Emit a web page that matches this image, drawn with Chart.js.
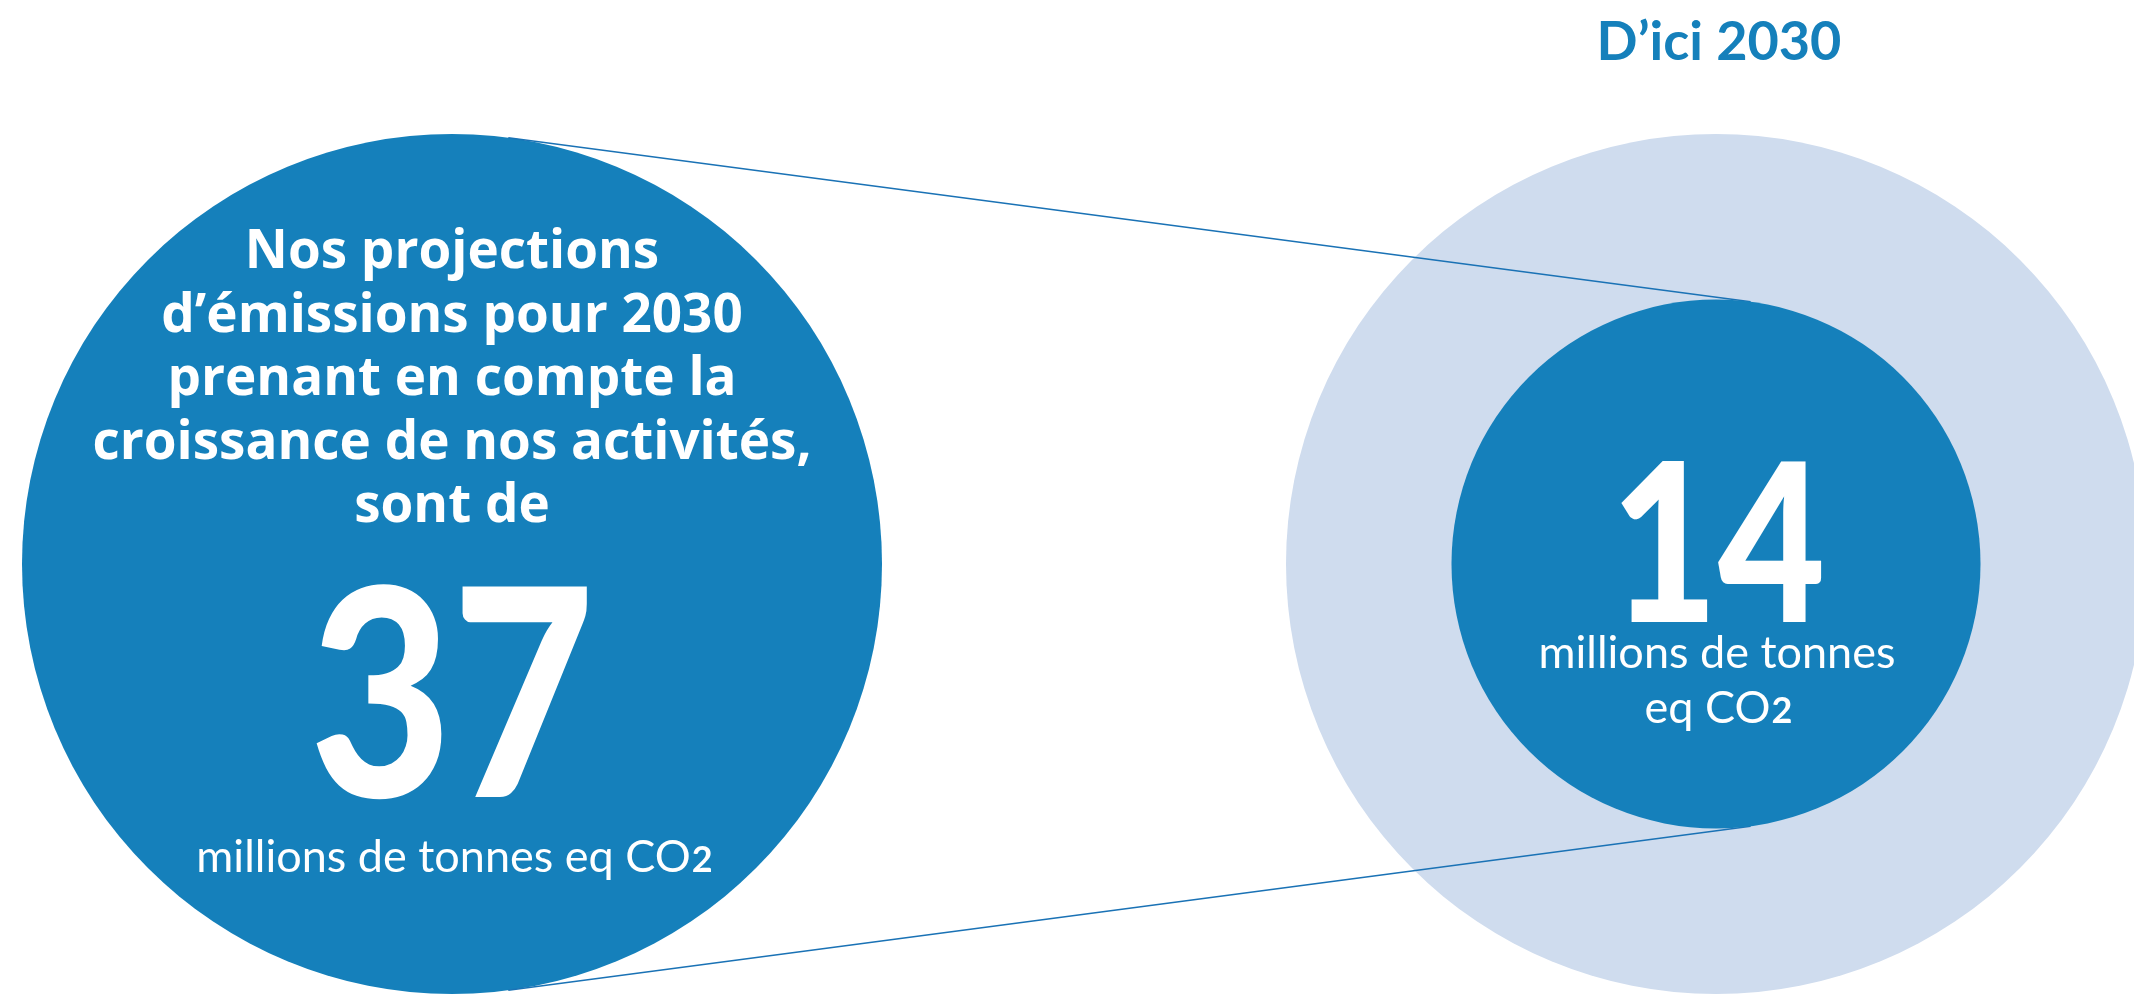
<!DOCTYPE html>
<html>
<head>
<meta charset="utf-8">
<script src="https://cdn.jsdelivr.net/npm/chart.js@4"></script>
<style>
  html, body { margin: 0; padding: 0; background: #fff; }
  #wrap { width: 2134px; height: 994px; }
</style>
</head>
<body>
<div id="wrap"><canvas id="emissions" width="2134" height="994"></canvas></div>
<script>
// values (millions de tonnes eq CO2)
const periods = ["Projection 2030", "D’ici 2030"];
const projected = [37, 37];
const target = [null, 14];
const heading = "D’ici 2030";
const leftText = ["Nos projections", "d’émissions pour 2030", "prenant en compte la", "croissance de nos activités,", "sont de"];
const unitText = "millions de tonnes eq CO";

const DARK = '#1580bb';
const PALE = '#cfdcee';
const LINE = '#1a72b5';
const MAXV = Math.max(...projected);

function bubbleRadius(ctx) {
    const a = ctx.chart.chartArea;
    if (!a || !ctx.raw) return 0;
    return (a.bottom - a.top) / 2 * Math.sqrt(ctx.raw.v / MAXV);
}

function circleOf(chart, i) {
    const el = chart.getDatasetMeta(i).data[0];
    return {x: el.x, y: el.y, r: el.options.radius};
}

// tangent lines from the projection circle to the target circle
const tangentPlugin = {
    id: 'tangents',
    beforeDatasetDraw(chart, args) {
        if (args.index !== 0) return;
        const c1 = circleOf(chart, 1), c2 = circleOf(chart, 0);
        const s = (c1.r - c2.r) / (c2.x - c1.x);
        const c = Math.sqrt(1 - s * s);
        const g = chart.ctx;
        g.save();
        g.strokeStyle = LINE;
        g.lineWidth = 1.6;
        [-1, 1].forEach(dir => {
            g.beginPath();
            g.moveTo(c1.x + c1.r * s, c1.y + dir * c1.r * c);
            g.lineTo(c2.x + c2.r * s, c2.y + dir * c2.r * c);
            g.stroke();
        });
        g.restore();
    }
};

function drawUnit(g, text, x, y, size) {
    const main = `400 ${size}px Lato`;
    const sub = `700 ${Math.round(size * 0.8)}px Lato`;
    g.font = main;
    const w1 = g.measureText(text).width;
    g.font = sub;
    const w2 = g.measureText('2').width;
    const x0 = x - (w1 + w2) / 2;
    g.textAlign = 'left';
    g.font = main;
    g.fillText(text, x0, y);
    g.font = sub;
    g.fillText('2', x0 + w1 + 1, y);
}

const labelPlugin = {
    id: 'labels',
    afterDatasetsDraw(chart) {
        const g = chart.ctx;
        const left = circleOf(chart, 1), small = circleOf(chart, 0);
        g.save();
        g.textBaseline = 'alphabetic';
        g.textAlign = 'center';

        // heading above the 2030 circle
        g.fillStyle = DARK;
        g.font = '700 54px Lato';
        g.fillText(heading, chart.scales.x.getPixelForValue(1) + 3, 60);

        g.fillStyle = '#fff';
        g.font = '700 53px "Open Sans"';
        leftText.forEach((t, i) => {
            g.fillText(t, left.x, left.y - 296 + i * 63.5);
        });
        g.font = '900 290px Lato';
        g.fillText(String(projected[0]), left.x, left.y + 233, 285);
        drawUnit(g, unitText, left.x + 2, left.y + 308, 45);

        g.textAlign = 'center';
        g.font = '900 222px Lato';
        g.fillText(String(target[1]), small.x + 2, small.y + 58, 215);
        g.font = '400 45px Lato';
        g.fillText("millions de tonnes", small.x + 1, small.y + 104);
        drawUnit(g, "eq CO", small.x + 2, small.y + 159, 45);
        g.restore();
    }
};

function circleSet(label, point, color) {
    return {
        label: label,
        data: [point],
        backgroundColor: color,
        pointRadius: bubbleRadius,
        pointHoverRadius: bubbleRadius,
        pointBorderWidth: 0,
        clip: false
    };
}

new Chart(document.getElementById('emissions'), {
    type: 'scatter',
    data: {
        datasets: [
            circleSet('Objectif', {x: 1, y: 0, v: target[1]}, DARK),
            circleSet(periods[0], {x: 0, y: 0, v: projected[0]}, DARK),
            circleSet(periods[1], {x: 1, y: 0, v: projected[1]}, PALE)
        ]
    },
    options: {
        responsive: false,
        animation: false,
        events: [],
        layout: {padding: {top: 134, left: 0, right: 0, bottom: 0}},
        plugins: {legend: {display: false}, tooltip: {enabled: false}},
        scales: {
            x: {type: 'linear', display: false, min: -0.3576, max: 1.3307},
            y: {type: 'linear', display: false, min: -1, max: 1}
        }
    },
    plugins: [tangentPlugin, labelPlugin]
});
</script>
</body>
</html>
